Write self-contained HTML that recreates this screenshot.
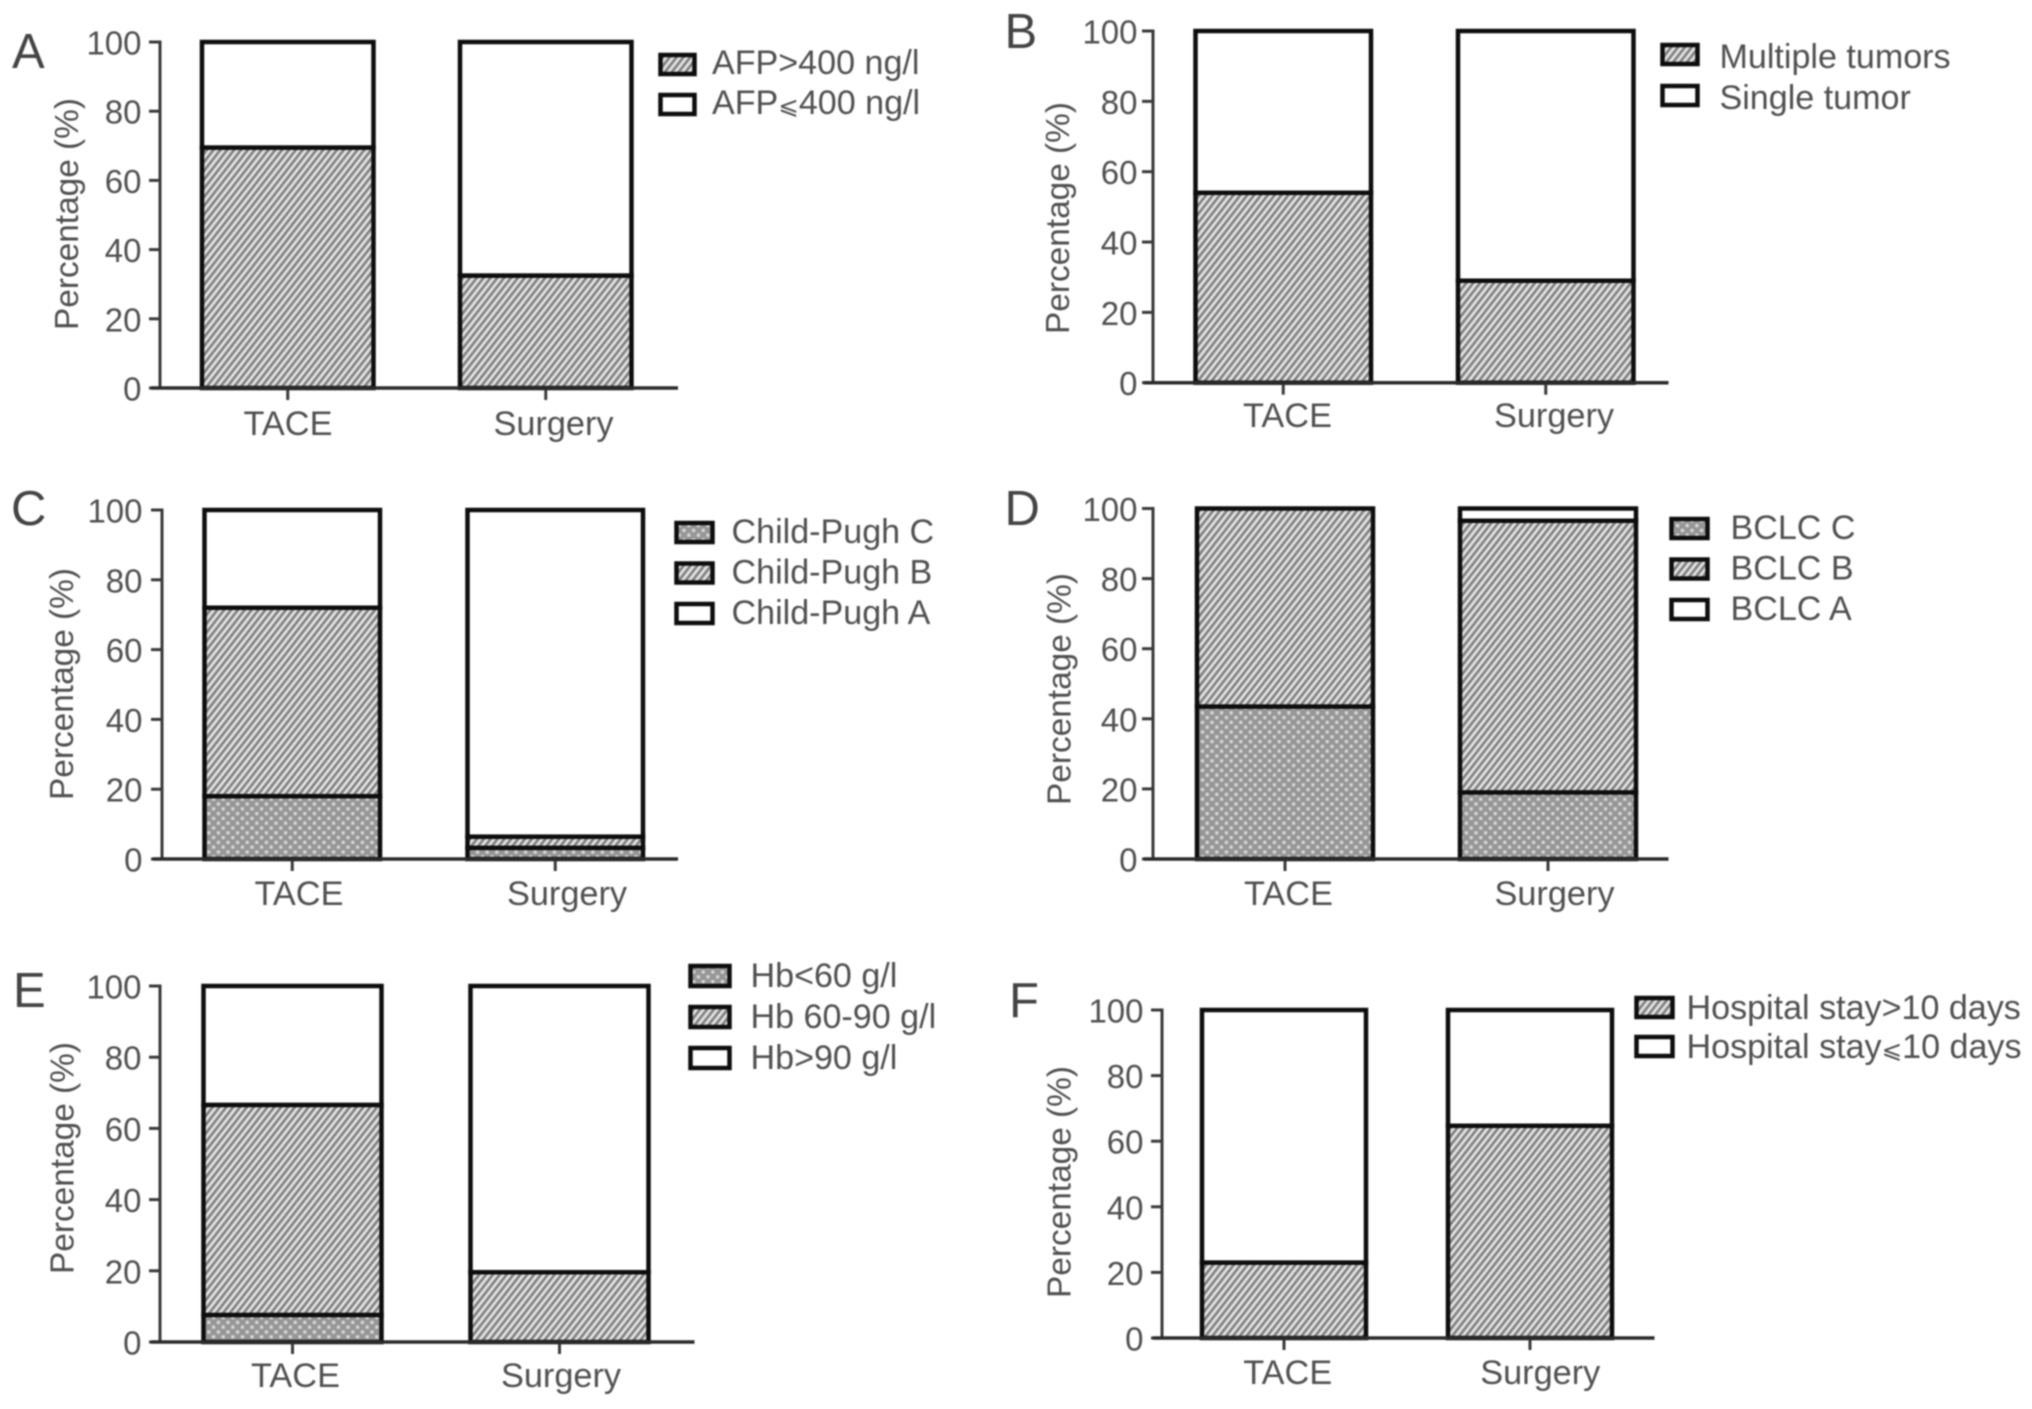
<!DOCTYPE html>
<html lang="en">
<head>
<meta charset="utf-8">
<title>TACE vs Surgery stacked bar panels</title>
<style>
html,body{margin:0;padding:0;background:#fff;width:2032px;height:1409px;overflow:hidden}
#figure{display:block;filter:blur(0.7px)}
text{font-family:"Liberation Sans","DejaVu Sans",sans-serif;fill:#505050}
</style>
</head>
<body>
<svg id="figure" xmlns="http://www.w3.org/2000/svg" width="2032" height="1409" viewBox="0 0 2032 1409">
  <defs>
    <pattern id="hatch" width="5.4" height="5.4" patternUnits="userSpaceOnUse" patternTransform="rotate(-52)">
      <rect width="5.4" height="5.4" fill="#e4e4e4"/>
      <rect width="5.4" height="2.7" fill="#808080"/>
    </pattern>
    <pattern id="dots" width="9.6" height="9.6" patternUnits="userSpaceOnUse">
      <rect width="9.6" height="9.6" fill="#969696"/>
      <rect x="0.8" y="0.8" width="3.2" height="3.2" fill="#d8d8d8"/>
      <rect x="5.6" y="5.6" width="3.2" height="3.2" fill="#d8d8d8"/>
    </pattern>
  </defs>
  <rect width="2032" height="1409" fill="#fff"/>
  <g id="panels"></g>
</svg>
<script>
// Shared axis data
const categories = ['TACE', 'Surgery'];
const yTickLabels = [0, 20, 40, 60, 80, 100];
const yTitle = 'Percentage (%)';

// Panel A
const afpHigh = [69.5, 32.5];
const afpLow = [30.5, 67.5];
// Panel B
const multipleTumors = [54, 29];
const singleTumor = [46, 71];
// Panel C
const childPughC = [18, 3.2];
const childPughB = [54, 3.2];
const childPughA = [28, 93.6];
// Panel D
const bclcC = [43.5, 19];
const bclcB = [56.5, 77.5];
const bclcA = [0, 3.5];
// Panel E
const hbLow = [7.6, 0];
const hbMid = [59, 19.6];
const hbHigh = [33.4, 80.4];
// Panel F
const stayLong = [23, 64.7];
const stayShort = [77, 35.3];

const panels = [
  {id:'a', letter:'A', letterX:12, letterY:68,
   frame:{axisX:160, xStart:151, xEnd:678, y0:388, y100:42, band0:202, step:258, barW:171.5},
   labelBase:435, labelShift:[0.25,7.75], tickRight:141.5, titleX:78, titleY:214,
   stack:[
     {name:'AFP>400 ng/l', values:afpHigh, fill:'url(#hatch)'},
     {name:'AFP\u2A7D400 ng/l', values:afpLow, fill:'#fff'}],
   legend:{x:658.5, w:38, h:23, top:53, gap:40, textX:712, textDy:-1}},
  {id:'b', letter:'B', letterX:1004.5, letterY:48,
   frame:{axisX:1153, xStart:1144, xEnd:1668.5, y0:382.7, y100:31, band0:1195.5, step:262.5, barW:175.5},
   labelBase:427, labelShift:[4.25,8.25], tickRight:1137.5, titleX:1069, titleY:218,
   stack:[
     {name:'Multiple tumors', values:multipleTumors, fill:'url(#hatch)'},
     {name:'Single tumor', values:singleTumor, fill:'#fff'}],
   legend:{x:1660.5, w:39, h:23, top:43, gap:41, textX:1719.5, textDy:3}},
  {id:'c', letter:'C', letterX:11, letterY:525,
   frame:{axisX:162, xStart:153, xEnd:678, y0:859, y100:510, band0:204.5, step:263, barW:175.5},
   labelBase:905, labelShift:[6.75,11.75], tickRight:142.5, titleX:73, titleY:684,
   stack:[
     {name:'Child-Pugh C', values:childPughC, fill:'url(#dots)'},
     {name:'Child-Pugh B', values:childPughB, fill:'url(#hatch)'},
     {name:'Child-Pugh A', values:childPughA, fill:'#fff'}],
   legend:{x:674.5, w:40, h:23, top:521, gap:40.5, textX:731.5, textDy:0}},
  {id:'d', letter:'D', letterX:1004.5, letterY:525,
   frame:{axisX:1153, xStart:1144, xEnd:1668.5, y0:859, y100:508.5, band0:1197, step:263, barW:176},
   labelBase:905, labelShift:[3.5,6.5], tickRight:1137.5, titleX:1070.5, titleY:689,
   stack:[
     {name:'BCLC C', values:bclcC, fill:'url(#dots)'},
     {name:'BCLC B', values:bclcB, fill:'url(#hatch)'},
     {name:'BCLC A', values:bclcA, fill:'#fff'}],
   legend:{x:1669.5, w:40, h:23, top:517, gap:40.5, textX:1730.5, textDy:0}},
  {id:'e', letter:'E', letterX:13, letterY:1007,
   frame:{axisX:160, xStart:151, xEnd:694.5, y0:1342, y100:986, band0:203.5, step:267, barW:178},
   labelBase:1387, labelShift:[3,1.5], tickRight:141.5, titleX:73.5, titleY:1158,
   stack:[
     {name:'Hb<60 g/l', values:hbLow, fill:'url(#dots)'},
     {name:'Hb 60-90 g/l', values:hbMid, fill:'url(#hatch)'},
     {name:'Hb>90 g/l', values:hbHigh, fill:'#fff'}],
   legend:{x:688.5, w:43, h:24, top:964, gap:41, textX:750.5, textDy:0}},
  {id:'f', letter:'F', letterX:1009, letterY:1017,
   frame:{axisX:1162, xStart:1153, xEnd:1654.5, y0:1338, y100:1010, band0:1202, step:246, barW:164},
   labelBase:1384, labelShift:[3.75,10.25], tickRight:1143.5, titleX:1070.5, titleY:1182,
   stack:[
     {name:'Hospital stay>10 days', values:stayLong, fill:'url(#hatch)'},
     {name:'Hospital stay\u2A7D10 days', values:stayShort, fill:'#fff'}],
   legend:{x:1634.5, w:40, h:23, top:996, gap:39, textX:1686.5, textDy:1}}
];

const SVG_NS = 'http://www.w3.org/2000/svg';
function make(parent, tag, attrs, content) {
  const node = document.createElementNS(SVG_NS, tag);
  for (const key in attrs) node.setAttribute(key, attrs[key]);
  if (content !== undefined) node.textContent = content;
  parent.appendChild(node);
  return node;
}
function slug(s) {
  return s.toLowerCase().replace(/\u2A7D/g, '-le-').replace(/</g, '-lt-').replace(/>/g, '-gt-').replace(/[^a-z0-9]+/g, '-').replace(/^-|-$/g, '');
}
// Write a legend label, drawing the slanted "less or equal" sign at the smaller size used in the figure.
function fillLegendText(node, label) {
  const parts = label.split('\u2A7D');
  parts.forEach((part, i) => {
    if (i > 0) make(node, 'tspan', {'font-size':24.5, 'font-family':'"DejaVu Sans",sans-serif'}, '\u2A7D');
    make(node, 'tspan', {}, part);
  });
}

function drawPanel(p) {
  const f = p.frame;
  const yScale = v => f.y0 - (v / 100) * (f.y0 - f.y100);
  const xBand = i => f.band0 + i * f.step;
  const root = document.getElementById('panels');

  const g = make(root, 'g', {});
  
  

  const letter = make(g, 'text', {x:p.letterX, y:p.letterY, 'font-size':49, style:'fill:#444'}, p.letter);
  
  

  const title = make(g, 'text', {
    transform:'translate(' + p.titleX + ',' + p.titleY + ') rotate(-90)',
    'text-anchor':'middle', 'font-size':33.4}, yTitle);
  
  

  const yAxis = make(g, 'line', {x1:f.axisX, x2:f.axisX, y1:f.y100 - 1.5, y2:f.y0, stroke:'#3a3a3a', 'stroke-width':3});
  
  

  yTickLabels.forEach(v => {
    const y = yScale(v);
    const tick = make(g, 'line', {x1:f.axisX - 11, x2:f.axisX, y1:y, y2:y, stroke:'#3a3a3a', 'stroke-width':3});
    
    
    const label = make(g, 'text', {x:p.tickRight, y:y + 12.5, 'text-anchor':'end', 'font-size':33}, String(v));
    
    
  });

  categories.forEach((cat, i) => {
    const x = xBand(i);
    const cx = x + f.barW / 2;
    let cum = 0;
    p.stack.forEach(s => {
      const v = s.values[i];
      if (v <= 0) return;
      const top = yScale(cum + v);
      const bottom = yScale(cum);
      const seg = make(g, 'rect', {x:x, y:top, width:f.barW, height:bottom - top, fill:s.fill, stroke:'#0d0d0d', 'stroke-width':4.5});
      
      
      cum += v;
    });
    const tick = make(g, 'line', {x1:cx, x2:cx, y1:f.y0, y2:f.y0 + 12, stroke:'#3a3a3a', 'stroke-width':3});
    
    
    const label = make(g, 'text', {x:cx + p.labelShift[i], y:p.labelBase, 'text-anchor':'middle', 'font-size':34.3}, cat);
    
    
  });

  const xAxis = make(g, 'line', {x1:f.xStart, x2:f.xEnd, y1:f.y0, y2:f.y0, stroke:'#2a2a2a', 'stroke-width':3.5});
  
  

  p.stack.forEach((s, i) => {
    const l = p.legend;
    const y = l.top + i * l.gap;
    const entry = make(g, 'g', {});
    
    
    const swatch = make(entry, 'rect', {x:l.x + 2, y:y + 2, width:l.w - 4, height:l.h - 4, fill:s.fill, stroke:'#0d0d0d', 'stroke-width':4.5});
    
    
    const text = make(entry, 'text', {x:l.textX, y:y + l.h - 1 + l.textDy, 'font-size':34.1});
    fillLegendText(text, s.name);
    
    
  });
}

panels.forEach(drawPanel);
</script>
</body>
</html>
